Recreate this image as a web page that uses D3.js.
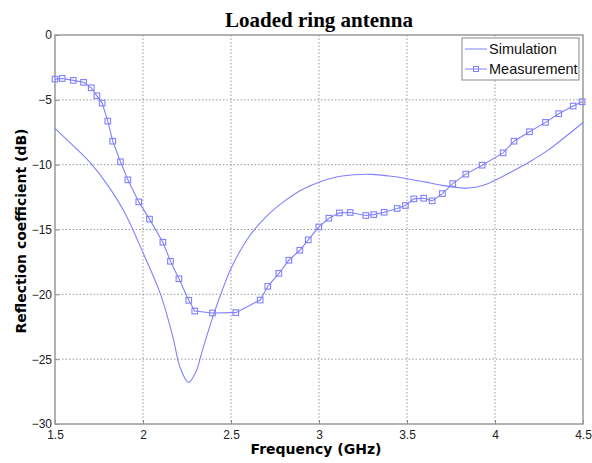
<!DOCTYPE html>
<html>
<head>
<meta charset="utf-8">
<script src="https://cdn.jsdelivr.net/npm/d3@7"></script>
<style>
  body { margin: 0; background: #fff; }
  .grid line { stroke: #999; stroke-dasharray: 1.5,2; stroke-width: 1; }
  .tick text { font-family: "Liberation Sans", Arial, sans-serif; font-size: 12px; fill: #222; }
</style>
</head>
<body>
<div id="chart"></div>
<script>
// simulated curve (GHz, dB)
var simFreq = [1.5, 1.6, 1.7, 1.8, 1.9, 2.0, 2.1, 2.17, 2.21, 2.258, 2.3, 2.34, 2.4, 2.45, 2.5, 2.6, 2.7, 2.8, 2.9,
  3.0, 3.1, 3.2, 3.3, 3.4, 3.5, 3.6, 3.7, 3.8, 3.85, 3.93, 4.0, 4.1, 4.2, 4.3, 4.4, 4.5];
var simDb = [-7.2, -8.5, -9.85, -11.6, -13.8, -16.8, -20.0, -23.3, -25.6, -26.8, -26.0, -24.2, -21.6, -19.7, -18.0,
  -15.6, -14.0, -12.85, -11.95, -11.35, -10.95, -10.78, -10.75, -10.88, -11.08, -11.33, -11.6, -11.78, -11.8, -11.6,
  -11.2, -10.5, -9.75, -8.9, -7.85, -6.75];

// measured points
var measFreq = [1.5, 1.541, 1.604, 1.662, 1.706, 1.738, 1.768, 1.80, 1.828, 1.872, 1.914, 1.976, 2.037, 2.113, 2.156,
  2.204, 2.26, 2.294, 2.395, 2.527, 2.666, 2.709, 2.772, 2.829, 2.891, 2.939, 2.999, 3.056, 3.116, 3.177, 3.266, 3.311,
  3.37, 3.444, 3.491, 3.539, 3.595, 3.643, 3.701, 3.76, 3.834, 3.927, 4.046, 4.108, 4.196, 4.287, 4.362, 4.444, 4.495];
var measDb = [-3.4, -3.35, -3.5, -3.65, -4.07, -4.69, -5.25, -6.64, -8.19, -9.78, -11.17, -12.87, -14.2, -15.98, -17.45,
  -18.8, -20.46, -21.29, -21.44, -21.41, -20.44, -19.38, -18.38, -17.37, -16.6, -15.8, -14.8, -14.13, -13.72, -13.69,
  -13.92, -13.85, -13.67, -13.38, -13.15, -12.64, -12.59, -12.79, -12.23, -11.46, -10.73, -10.04, -9.09, -8.19, -7.46,
  -6.74, -6.07, -5.48, -5.15];

var xTicks = [1.5, 2, 2.5, 3, 3.5, 4, 4.5];
var yTicks = [0, -5, -10, -15, -20, -25, -30];

var W = 592, H = 463;
var margin = {top: 35, right: 9, bottom: 39, left: 55},
  width = W - margin.left - margin.right,
  height = H - margin.top - margin.bottom;
var color = "#8080ff";

var svg = d3.select("#chart").append("svg")
  .attr("width", W).attr("height", H);
var g = svg.append("g")
  .attr("transform", `translate(${margin.left},${margin.top})`);

var x = d3.scaleLinear().domain([1.5, 4.5]).range([0, width]);
var y = d3.scaleLinear().domain([-30, 0]).range([height, 0]);

// grid
g.append("g").attr("class", "grid")
  .selectAll("line").data(xTicks.slice(1, -1)).enter().append("line")
  .attr("x1", d => x(d)).attr("x2", d => x(d))
  .attr("y1", 0).attr("y2", height);
g.append("g").attr("class", "grid")
  .selectAll("line").data(yTicks.slice(1, -1)).enter().append("line")
  .attr("y1", d => y(d)).attr("y2", d => y(d))
  .attr("x1", 0).attr("x2", width);

// axes
var xAxis = g.append("g")
  .attr("transform", `translate(0,${height})`)
  .call(d3.axisBottom(x).tickValues(xTicks).tickFormat(d3.format("")).tickSizeInner(-4).tickSizeOuter(0).tickPadding(6));
var yAxis = g.append("g")
  .call(d3.axisLeft(y).tickValues(yTicks).tickFormat(d3.format("")).tickSizeInner(-4).tickSizeOuter(0).tickPadding(3));
[xAxis, yAxis].forEach(a => {
  a.select(".domain").remove();
  a.selectAll(".tick line").attr("stroke", "#888");
});

g.append("rect")
  .attr("width", width).attr("height", height)
  .attr("fill", "none").attr("stroke", "#999").attr("stroke-width", 1.5);

// simulation
var sim = simFreq.map((f, i) => [f, simDb[i]]);
g.append("path").datum(sim)
  .attr("fill", "none").attr("stroke", color).attr("stroke-width", 1.1)
  .attr("d", d3.line().x(d => x(d[0])).y(d => y(d[1])).curve(d3.curveCatmullRom));

// measurement
var meas = measFreq.map((f, i) => [f, measDb[i]]);
g.append("path").datum(meas)
  .attr("fill", "none").attr("stroke", color).attr("stroke-width", 1.1)
  .attr("d", d3.line().x(d => x(d[0])).y(d => y(d[1])));
g.selectAll(".mk").data(meas).enter().append("rect")
  .attr("class", "mk")
  .attr("x", d => x(d[0]) - 2.8).attr("y", d => y(d[1]) - 2.8)
  .attr("width", 5.6).attr("height", 5.6)
  .attr("fill", "none").attr("stroke", color).attr("stroke-width", 1.1);

// title and labels
svg.append("text")
  .attr("x", margin.left + width / 2).attr("y", 27)
  .attr("text-anchor", "middle")
  .style("font-family", "'Liberation Serif', 'Times New Roman', serif")
  .style("font-weight", "bold").style("font-size", "21px")
  .text("Loaded ring antenna");

svg.append("text")
  .attr("x", 316).attr("y", 454)
  .attr("text-anchor", "middle")
  .style("font-family", "'DejaVu Sans', Verdana, sans-serif")
  .style("font-weight", "bold").style("font-size", "14px")
  .text("Frequency (GHz)");

svg.append("text")
  .attr("transform", "translate(26,231) rotate(-90)")
  .attr("text-anchor", "middle")
  .style("font-family", "'DejaVu Sans', Verdana, sans-serif")
  .style("font-weight", "bold").style("font-size", "14px")
  .text("Reflection coefficient (dB)");

// legend
var lg = svg.append("g").attr("transform", "translate(462,38)");
lg.append("rect").attr("width", 117).attr("height", 42)
  .attr("fill", "#fff").attr("stroke", "#888").attr("stroke-width", 1);
var items = ["Simulation", "Measurement"];
items.forEach(function(name, i) {
  var yy = 11 + i * 20;
  lg.append("line").attr("x1", 3).attr("x2", 25).attr("y1", yy).attr("y2", yy)
    .attr("stroke", color).attr("stroke-width", 1);
  if (i == 1) {
    lg.append("rect").attr("x", 11.5).attr("y", yy - 2.5).attr("width", 5).attr("height", 5)
      .attr("fill", "none").attr("stroke", color);
  }
  lg.append("text").attr("x", 27).attr("y", yy + 5)
    .style("font-family", "'Liberation Sans', Arial, sans-serif").style("font-size", "14.5px")
    .attr("fill", "#111")
    .text(name);
});
</script>
</body>
</html>
